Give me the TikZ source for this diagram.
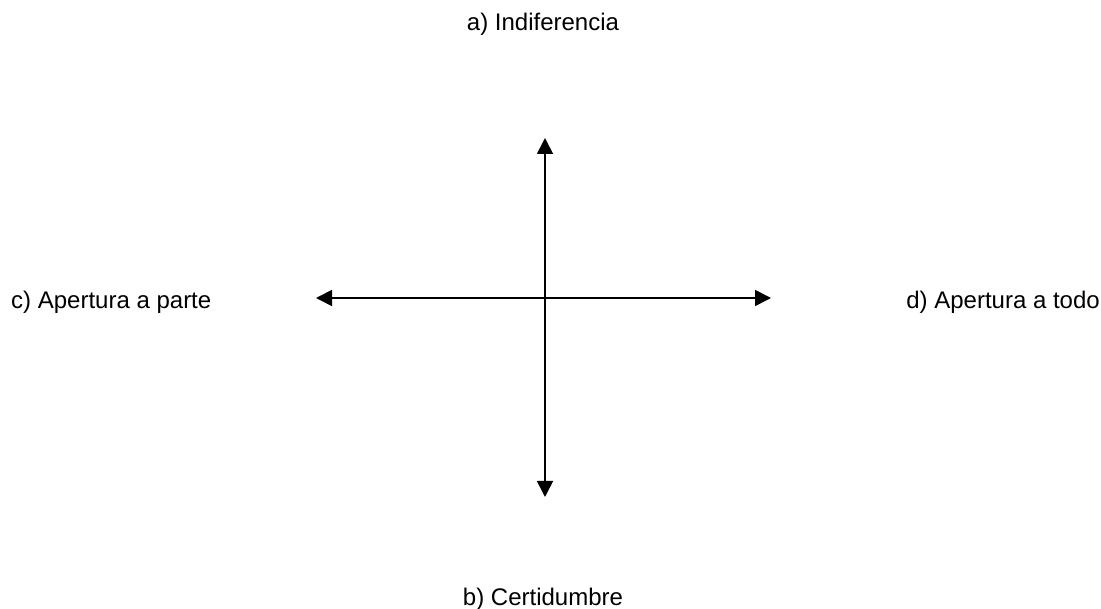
\documentclass[tikz,border=0pt]{standalone}
\usepackage{fontspec}
\setmainfont{Liberation Sans}
\usetikzlibrary{arrows.meta}
\begin{document}
\begin{tikzpicture}[x=1pt,y=-1pt,
  lbl/.style={font=\fontsize{24}{28}\selectfont, inner sep=0pt},
  axis/.style={line width=1.6pt, {Triangle[length=16pt,width=16pt]}-{Triangle[length=16pt,width=16pt]}}]
\useasboundingbox (0,0) rectangle (1101,609);
\coordinate (top) at (545,138);
\coordinate (bot) at (545,497);
\coordinate (left) at (316,298);
\coordinate (right) at (771,298);
\draw[axis] (bot) -- (top);
\draw[axis] (left) -- (right);
\node[lbl, anchor=base] (a) at (543,31) {a) Indiferencia};
\node[lbl, anchor=base] (b) at (543,605) {b) Certidumbre};
\node[lbl, anchor=base west] (c) at (11,309) {c) Apertura a parte};
\node[lbl, anchor=base east] (d) at (1100,309) {d) Apertura a todo};
\end{tikzpicture}
\end{document}
